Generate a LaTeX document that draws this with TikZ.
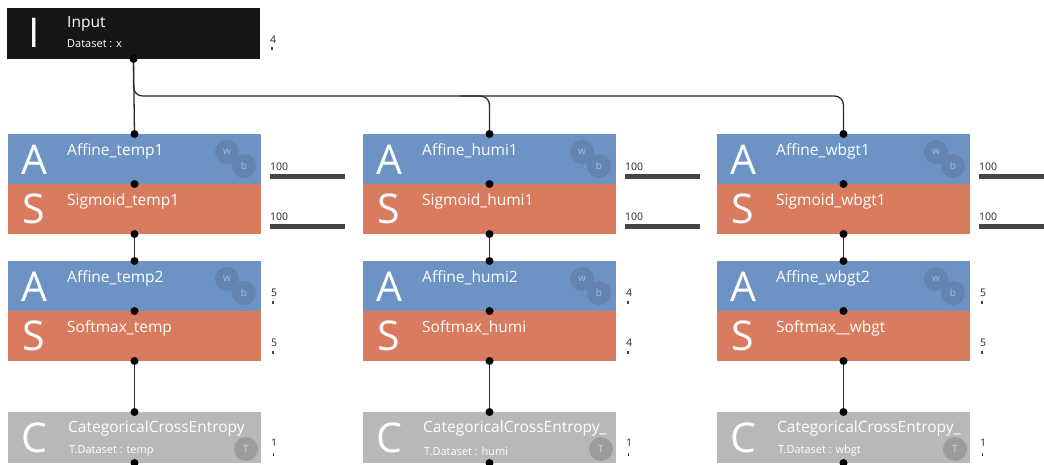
\documentclass[tikz,border=0pt]{standalone}
\usepackage{fontspec}
\setmainfont{Open Sans}
\usetikzlibrary{calc}

\definecolor{affblue}{HTML}{6C93C4}
\definecolor{sigred}{HTML}{D97B5E}
\definecolor{lossgray}{HTML}{B8B8B8}
\definecolor{inblack}{HTML}{161616}
\definecolor{parblue}{HTML}{6483AE}
\definecolor{partext}{HTML}{A9BCD6}
\definecolor{tgray}{HTML}{9C9C9C}
\definecolor{wire}{HTML}{2A2A2A}
\definecolor{barcol}{HTML}{454545}

\tikzset{
  layerbox/.style={rectangle, minimum width=253pt, minimum height=50pt,
    inner sep=0pt, outer sep=0pt, anchor=north west},
  affbox/.style={layerbox, fill=affblue},
  sigbox/.style={layerbox, fill=sigred},
  lossbox/.style={layerbox, fill=lossgray, minimum height=51pt},
  inputbox/.style={layerbox, fill=inblack, minimum height=51pt},
  bigletter/.style={text=white, font=\fontsize{41}{41}\selectfont, inner sep=0pt},
  lname/.style={text=white, font=\fontsize{15.5}{15.5}\selectfont, anchor=west, inner sep=0pt},
  lsub/.style={text=white, font=\fontsize{11}{11}\selectfont, anchor=west, inner sep=0pt},
  parcircle/.style={circle, fill=parblue, minimum size=24pt, inner sep=0pt,
    text=partext, font=\fontsize{10}{10}\selectfont},
  tcircle/.style={circle, fill=tgray, minimum size=24pt, inner sep=0pt,
    text=lossgray!60!white, font=\fontsize{10}{10}\selectfont},
  sizelbl/.style={font=\fontsize{10.5}{10.5}\selectfont, anchor=west, inner sep=0pt, text=black!85},
  sizebar/.style={fill=barcol},
  wireline/.style={draw=wire, line width=1.3pt},
  port/.style={fill=black},
}

\begin{document}
\begin{tikzpicture}[x=1pt, y=-1pt]
\useasboundingbox (0,0) rectangle (1044,465);
\fill[white] (0,0) rectangle (1044,465);

% input layer
\node[inputbox] (in) at (7,8) {};
\node[bigletter] (inI) at ($(in.north west)+(27,25)$) {I};
\node[lname] (inname) at ($(in.north west)+(60,16)$) {Input};
\node[lsub] (insub) at ($(in.north west)+(60,36)$) {Dataset : x};
\node[sizelbl] (insz) at ($(in.north east)+(10,32)$) {4};
\fill[sizebar] ($(in.north east)+(11,39)$) rectangle ++(1.5,3);

\coordinate (bus) at (0,96);

\foreach \k/\dx/\na/\ns/\nb/\nt/\nl/\tg/\sz in {
  1/0/Affine\_temp1/Sigmoid\_temp1/Affine\_temp2/Softmax\_temp/CategoricalCrossEntropy/temp/5,
  2/355/Affine\_humi1/Sigmoid\_humi1/Affine\_humi2/Softmax\_humi/CategoricalCrossEntropy\_/humi/4,
  3/709/Affine\_wbgt1/Sigmoid\_wbgt1/Affine\_wbgt2/Softmax\_\_wbgt/CategoricalCrossEntropy\_/wbgt/5}{
  % blocks of the column
  \node[affbox] (a\k) at (8+\dx,134) {};
  \node[sigbox] (s\k) at (8+\dx,184) {};
  \node[affbox] (b\k) at (8+\dx,261) {};
  \node[sigbox] (t\k) at (8+\dx,311) {};
  \node[lossbox] (c\k) at (8+\dx,412) {};

  % wires inside the column
  \draw[wireline] (s\k.south) -- (b\k.north);
  \draw[wireline] (t\k.south) -- (c\k.north);
  \draw[wireline] (c\k.south) -- ++(0,10);

  % affine 1 / sigmoid 1
  \node[bigletter] at ($(a\k.north west)+(26,26)$) {A};
  \node[lname] at ($(a\k.north west)+(59,17)$) {\na};
  \node[parcircle] at ($(a\k.north west)+(219,18)$) {w};
  \node[parcircle] at ($(a\k.north west)+(236,32)$) {b};
  \node[bigletter] at ($(s\k.north west)+(26,25)$) {S};
  \node[lname] at ($(s\k.north west)+(59,17)$) {\ns};

  % affine 2 / softmax
  \node[bigletter] at ($(b\k.north west)+(26,26)$) {A};
  \node[lname] at ($(b\k.north west)+(59,17)$) {\nb};
  \node[parcircle] at ($(b\k.north west)+(219,18)$) {w};
  \node[parcircle] at ($(b\k.north west)+(236,32)$) {b};
  \node[bigletter] at ($(t\k.north west)+(26,25)$) {S};
  \node[lname] at ($(t\k.north west)+(59,17)$) {\nt};

  % loss
  \node[bigletter] at ($(c\k.north west)+(26,26)$) {C};
  \node[lname] at ($(c\k.north west)+(60,16)$) {\nl};
  \node[lsub] at ($(c\k.north west)+(61,39)$) {T.Dataset : \tg};
  \node[tcircle] at ($(c\k.north west)+(238,37)$) {T};

  % output sizes
  \node[sizelbl] at ($(a\k.north east)+(9,33)$) {100};
  \fill[sizebar] ($(a\k.north east)+(9,40)$) rectangle ++(75,5);
  \node[sizelbl] at ($(s\k.north east)+(9,33)$) {100};
  \fill[sizebar] ($(s\k.north east)+(9,40)$) rectangle ++(75,5);
  \node[sizelbl] at ($(b\k.north east)+(10,32)$) {\sz};
  \fill[sizebar] ($(b\k.north east)+(11,40)$) rectangle ++(2,3);
  \node[sizelbl] at ($(t\k.north east)+(10,32)$) {\sz};
  \fill[sizebar] ($(t\k.north east)+(11,40)$) rectangle ++(2,3);
  \node[sizelbl] at ($(c\k.north east)+(10,31)$) {1};
  \fill[sizebar] ($(c\k.north east)+(11.5,41)$) rectangle ++(1,2.5);
}

% input fan-out
\draw[wireline] (in.south) -- (a1.north);
\draw[wireline, rounded corners=9pt] (in.south) -- (in.south |- bus) -- (a3.north |- bus) -- (a3.north);
\draw[wireline, rounded corners=9pt] ($(a2.north |- bus)+(-30,0)$) -- (a2.north |- bus) -- (a2.north);

% ports
\foreach \k in {1,2,3}{
  \foreach \p in {a\k.north, a\k.south, s\k.south, b\k.north, b\k.south, t\k.south, c\k.north, c\k.south}{
    \fill[port] (\p) circle (4pt);
  }
}
\fill[port] (in.south) circle (4pt);
\end{tikzpicture}
\end{document}
